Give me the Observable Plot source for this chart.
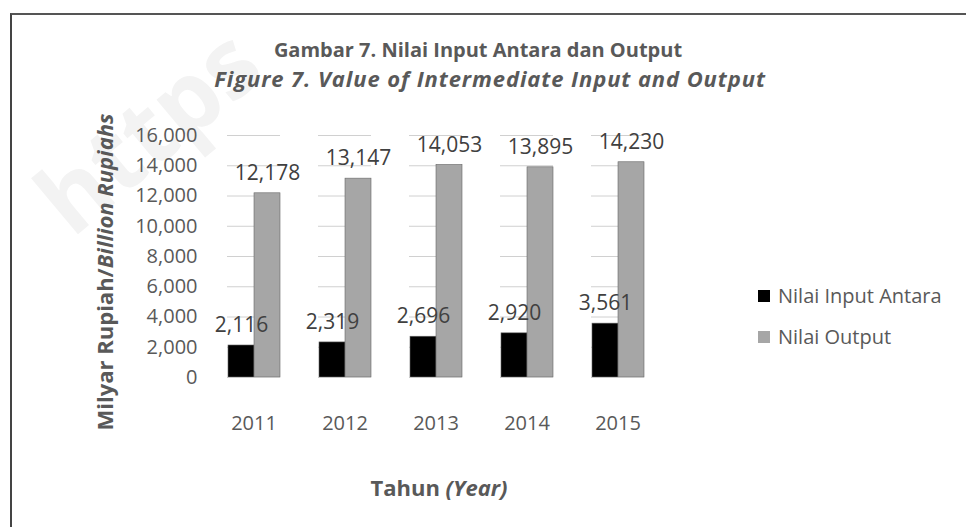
<!DOCTYPE html>
<html>
<head>
<meta charset="utf-8">
<script src="https://cdn.jsdelivr.net/npm/d3@7"></script>
<script src="https://cdn.jsdelivr.net/npm/@observablehq/plot@0.6"></script>
<style>
  html, body { margin: 0; padding: 0; background: #fff; }
  #wrap { position: relative; width: 966px; height: 527px; overflow: hidden; font-family: "Open Sans", sans-serif; color: #595959; }
  #frame { position: absolute; left: 10px; top: 13px; right: -10px; bottom: -10px; border-top: 2px solid #555; border-left: 2px solid #444; }
  #wm { position: absolute; left: 6px; top: 160px; font-size: 96px; font-weight: bold; color: #f3f3f3; transform: rotate(-40deg); transform-origin: left top; white-space: nowrap; }
  #t1 { position: absolute; left: 0; width: 956px; top: 36px; text-align: center; font-weight: bold; font-size: 20px; line-height: 28px; color: #595959; }
  #t2 { position: absolute; left: 0; width: 980px; top: 64px; text-align: center; font-weight: bold; font-style: italic; font-size: 22px; letter-spacing: 0.9px; line-height: 28px; color: #595959; }
  #chart { position: absolute; left: 0; top: 100px; }
  #ylab { position: absolute; left: 104px; top: 272px; transform: translate(-50%, -50%) rotate(-90deg); white-space: nowrap; font-weight: bold; font-size: 22px; color: #595959; }
  #xlab { position: absolute; left: 439px; top: 487px; transform: translate(-50%, -50%); white-space: nowrap; font-weight: bold; font-size: 22px; color: #595959; }
  #legend { position: absolute; left: 758px; top: 275px; font-size: 20px; color: #595959; }
  #legend div { display: flex; align-items: center; height: 41px; }
  #legend span.sw { display: inline-block; width: 12px; height: 12px; margin-right: 8px; }
</style>
</head>
<body>
<div id="wrap">
  <div id="wm">https</div>
  <div id="frame"></div>
  <div id="t1">Gambar 7. Nilai Input Antara dan Output</div>
  <div id="t2">Figure 7. Value of Intermediate Input and Output</div>
  <div id="chart"></div>
  <div id="ylab">Milyar Rupiah/<i>Billion Rupiahs</i></div>
  <div id="xlab">Tahun <i>(Year)</i></div>
  <div id="legend"></div>
</div>
<script>
const years = ["2011", "2012", "2013", "2014", "2015"];
const seriesNames = ["Nilai Input Antara", "Nilai Output"];
const inputAntara = [2116, 2319, 2696, 2920, 3561];
const output = [12178, 13147, 14053, 13895, 14230];
const seriesColors = ["#000000", "#a6a6a6"];
const yTicks = [0, 2000, 4000, 6000, 8000, 10000, 12000, 14000, 16000];

const data = [];
years.forEach((y, i) => {
  data.push({year: y, series: seriesNames[0], value: inputAntara[i]});
  data.push({year: y, series: seriesNames[1], value: output[i]});
});

const chart = Plot.plot({
  width: 690,
  height: 410,
  marginLeft: 225,
  marginRight: 45,
  marginTop: 35,
  marginBottom: 133,
  style: {fontFamily: "Open Sans, sans-serif", fontSize: "20px", color: "#595959", background: "transparent"},
  fx: {domain: years, padding: 0.42, label: null},
  x: {domain: seriesNames, padding: 0, axis: null},
  y: {domain: [0, 16000], ticks: yTicks, tickFormat: d3.format(","), label: null},
  color: {domain: seriesNames, range: seriesColors},
  marks: [
    Plot.gridY(yTicks, {stroke: "#d0d0d0", strokeOpacity: 1}),
    Plot.axisY({ticks: yTicks, tickFormat: d3.format(","), tickSize: 0, tickPadding: 30, fontSize: 20, fill: "#595959"}),
    Plot.axisFx({anchor: "bottom", tickSize: 0, tickPadding: 38, fontSize: 20, fill: "#595959", label: null}),
    Plot.barY(data, {fx: "year", x: "series", y: "value", fill: "series", stroke: "#666", strokeWidth: 0.6}),
    Plot.ruleY([0], {stroke: "#c8c8c8"}),
    Plot.text(data, {fx: "year", x: "series", y: "value", text: d => d3.format(",")(d.value), dy: -20, fontSize: 21, fill: "#404040"})
  ]
});
document.getElementById("chart").appendChild(chart);

const legend = document.getElementById("legend");
seriesNames.forEach((s, i) => {
  const row = document.createElement("div");
  const sw = document.createElement("span");
  sw.className = "sw";
  sw.style.background = seriesColors[i];
  row.appendChild(sw);
  row.appendChild(document.createTextNode(s));
  legend.appendChild(row);
});
</script>
</body>
</html>
